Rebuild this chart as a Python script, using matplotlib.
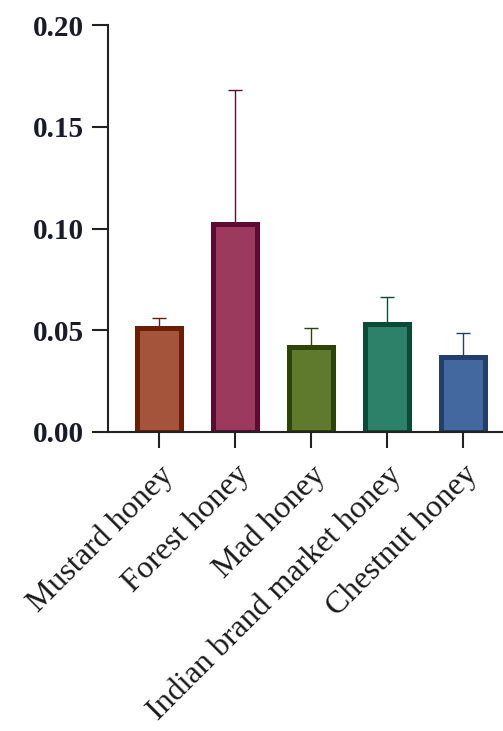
import matplotlib.pyplot as plt
import numpy as np

categories = ['Mustard honey', 'Forest honey', 'Mad honey',
              'Indian brand market honey', 'Chestnut honey']
means = [0.051, 0.102, 0.042, 0.053, 0.037]
errors = [0.005, 0.066, 0.009, 0.0135, 0.0117]
fill_colors = ['#A3543A', '#9C3A5E', '#5F7A2D', '#2E8169', '#4368A0']
edge_colors = ['#6B1E04', '#5E0B32', '#2C4406', '#0B4A36', '#233E6B']

plt.rcParams['font.family'] = ['Liberation Serif', 'DejaVu Serif']

fig = plt.figure(figsize=(5.03, 7.31), dpi=100)
ax = fig.add_axes([108 / 503, 1 - 432 / 731, 1 - 108 / 503, 407 / 731])

x = np.arange(len(categories))
for i in range(len(categories)):
    ax.bar(x[i], means[i], width=0.58, color=fill_colors[i],
           edgecolor=edge_colors[i], linewidth=3.6, zorder=2)
    ax.errorbar(x[i], means[i], yerr=[[0], [errors[i]]], fmt='none',
                ecolor=edge_colors[i], elinewidth=1.0, capsize=5,
                capthick=1.0, zorder=1)

ax.set_xlim(-0.67, 4.53)
ax.set_ylim(0, 0.20)
ax.set_yticks([0.00, 0.05, 0.10, 0.15, 0.20])
ax.set_yticklabels(['0.00', '0.05', '0.10', '0.15', '0.20'],
                   fontsize=21, fontweight='bold', color='#1a1a2a')
ax.set_xticks(x)
ax.set_xticklabels(categories, rotation=45, ha='right', va='top',
                   rotation_mode='anchor', fontsize=23, color='#1a1a1a')

for side in ['top', 'right']:
    ax.spines[side].set_visible(False)
for side in ['left', 'bottom']:
    ax.spines[side].set_linewidth(1.5)
    ax.spines[side].set_color('#222222')
ax.tick_params(axis='both', direction='out', length=11.5, width=1.5,
               color='#222222')
ax.tick_params(axis='y', pad=6)
ax.tick_params(axis='x', pad=9)

fig.savefig('out.png', dpi=100)
